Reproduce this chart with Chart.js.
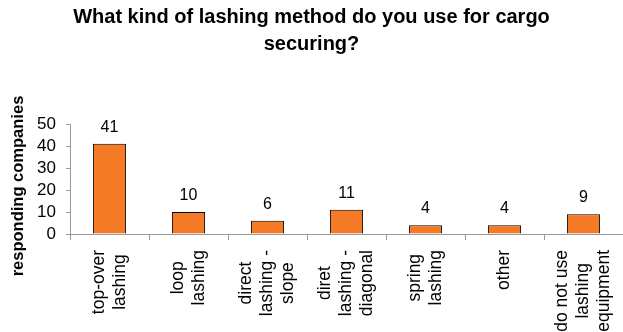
<!DOCTYPE html>
<html>
<head>
<meta charset="utf-8">
<script src="https://cdn.jsdelivr.net/npm/chart.js@4/dist/chart.umd.min.js"></script>
<style>
  html, body { margin: 0; padding: 0; background: #fff; }
  #wrap { width: 623px; height: 332px; }
</style>
</head>
<body>
<div id="wrap"><canvas id="c" width="623" height="332"></canvas></div>
<script>
const categories = [
  ["top-over", "lashing"],
  ["loop", "lashing"],
  ["direct", "lashing -", "slope"],
  ["diret", "lashing -", "diagonal"],
  ["spring", "lashing"],
  ["other"],
  ["do not use", "lashing", "equipment"]
];
const responses = [41, 10, 6, 11, 4, 4, 9];
const yTicks = [0, 10, 20, 30, 40, 50];
const titleLines = ["What kind of lashing method do you use for cargo", "securing?"];
const yTitle = "responding companies";

const FONT = "'Liberation Sans', Arial, sans-serif";

const labelPlugin = {
  id: 'customLabels',
  afterDatasetsDraw(chart) {
    const ctx = chart.ctx;
    const xs = chart.scales.x;
    const ys = chart.scales.y;
    const meta = chart.getDatasetMeta(0);
    ctx.save();
    // value labels
    ctx.fillStyle = '#000';
    ctx.font = '16px ' + FONT;
    ctx.textAlign = 'center';
    ctx.textBaseline = 'alphabetic';
    meta.data.forEach((bar, i) => {
      ctx.fillText(String(responses[i]), bar.x, bar.y - 12);
    });
    // category labels, rotated, lines centered
    ctx.font = '17.5px ' + FONT;
    ctx.textBaseline = 'middle';
    const top = xs.top + 16;
    const lh = 21;
    categories.forEach((lines, i) => {
      const x = xs.getPixelForValue(i);
      let w = 0;
      lines.forEach(l => { w = Math.max(w, ctx.measureText(l).width); });
      ctx.save();
      ctx.translate(x, top);
      ctx.rotate(-Math.PI / 2);
      lines.forEach((l, j) => {
        ctx.fillText(l, -w / 2, (j - (lines.length - 1) / 2) * lh);
      });
      ctx.restore();
    });
    // y axis title
    ctx.font = 'bold 16.5px ' + FONT;
    ctx.save();
    ctx.translate(ys.left + 18, (ys.top + ys.bottom) / 2 + 7);
    ctx.rotate(-Math.PI / 2);
    ctx.fillText(yTitle, 0, 0);
    ctx.restore();
    ctx.restore();
  }
};

new Chart(document.getElementById('c'), {
  type: 'bar',
  data: {
    labels: categories.map(c => c.join(' ')),
    datasets: [{
      data: responses,
      backgroundColor: '#F47A26',
      borderColor: '#000',
      borderWidth: 1,
      barPercentage: 0.42,
      categoryPercentage: 1.0
    }]
  },
  options: {
    responsive: false,
    animation: false,
    devicePixelRatio: 1,
    layout: { padding: { top: 4, right: 0, bottom: 0, left: 0 } },
    plugins: {
      legend: { display: false },
      tooltip: { enabled: false },
      title: {
        display: true,
        text: titleLines,
        color: '#000',
        font: { family: FONT, size: 20, weight: 'bold', lineHeight: 1.35 },
        padding: { top: 0, bottom: 66 }
      }
    },
    scales: {
      x: {
        offset: true,
        border: { color: '#999', width: 1 },
        grid: { display: true, offset: true, drawOnChartArea: false, drawTicks: true, tickLength: 6, color: '#999' },
        ticks: { display: false },
        afterFit(scale) { scale.height = 98; }
      },
      y: {
        min: 0,
        max: 50,
        afterBuildTicks(scale) { scale.ticks = yTicks.map(v => ({ value: v })); },
        border: { color: '#999', width: 1 },
        grid: { display: true, drawOnChartArea: false, drawTicks: true, tickLength: 4, color: '#999' },
        ticks: { color: '#000', font: { family: FONT, size: 17 }, padding: 10, autoSkip: false },
        title: { display: false },
        afterFit(scale) { scale.width = 70; }
      }
    }
  },
  plugins: [labelPlugin]
});
</script>
</body>
</html>
